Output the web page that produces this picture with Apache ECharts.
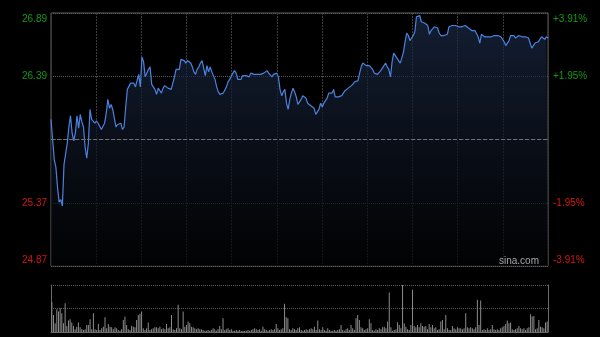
<!DOCTYPE html>
<html><head><meta charset="utf-8">
<script src="https://cdn.jsdelivr.net/npm/echarts@6/dist/echarts.min.js"></script>
<style>html,body{margin:0;padding:0;background:#000;}#c{width:600px;height:337px;}</style>
</head><body><div id="c"></div>
<script>
const priceMin = 24.87, priceMax = 26.89, preClose = 25.88;
const leftLabels = ['24.87', '25.37', '', '26.39', '26.89'];
const rightLabels = ['-3.91%', '-1.95%', '', '+1.95%', '+3.91%'];
const timeSlots = 11;
const prices = [
26.04,25.88,25.72,25.66,25.50,25.38,25.40,25.35,25.68,25.69,
25.85,25.98,26.07,25.93,25.87,25.93,26.07,25.97,26.08,26.02,
25.98,25.82,25.73,25.85,26.12,26.04,26.04,26.01,26.03,26.01,
26.01,25.96,25.97,26.01,26.09,26.20,26.13,26.16,26.12,26.12,
25.98,26.00,26.00,26.01,25.96,25.98,26.14,26.28,26.27,26.33,
26.34,26.33,26.30,26.29,26.40,26.30,26.54,26.50,26.38,26.37,
26.44,26.46,26.32,26.30,26.28,26.24,26.29,26.29,26.25,26.29,
26.31,26.30,26.29,26.28,26.28,26.28,26.38,26.44,26.44,26.44,26.52,
26.53,26.51,26.49,26.51,26.51,26.49,26.46,26.42,26.40,26.44,
26.46,26.49,26.51,26.45,26.39,26.47,26.42,26.46,26.42,26.41,
26.36,26.30,26.26,26.24,26.24,26.25,26.26,26.30,26.34,26.36,
26.37,26.41,26.43,26.41,26.36,26.36,26.36,26.39,26.39,26.39,
26.38,26.38,26.41,26.40,26.40,26.41,26.40,26.40,26.40,26.40,
26.41,26.41,26.43,26.41,26.41,26.38,26.40,26.41,26.41,26.38,
26.28,26.23,26.26,26.28,26.17,26.12,26.20,26.25,26.29,26.26,
26.22,26.16,26.16,26.20,26.23,26.22,26.21,26.17,
26.16,26.15,26.15,26.13,26.08,26.08,26.12,
26.17,26.14,26.17,26.16,
26.21,26.25,26.24,26.25,26.28,26.22,26.22,26.22,26.22,26.23,
26.22,26.27,26.28,26.29,26.30,26.31,26.32,26.34,26.33,26.35,
26.41,26.46,26.49,26.49,26.47,26.46,26.47,26.47,26.44,26.41,
26.40,26.40,26.41,26.43,26.45,26.46,26.49,26.46,26.44,26.38,
26.50,26.57,26.55,26.54,26.51,26.49,26.53,26.58,26.66,26.73,
26.71,26.67,26.67,26.71,26.74,
26.86,26.86,26.87,26.82,26.81,26.81,26.81,26.79,26.72,26.75,26.76,
26.78,26.79,26.77,26.73,26.71,26.70,26.71,26.71,26.72,26.78,
26.79,26.79,26.79,26.79,26.79,26.78,26.79,26.78,26.78,26.79,
26.78,26.77,26.76,26.75,26.75,26.75,26.75,26.70,
26.65,26.72,
26.71,26.70,26.70,26.70,26.70,26.70,26.70,26.71,26.71,26.71,
26.71,26.70,26.70,26.66,26.63,26.63,26.67,26.71,26.70,26.71,
26.69,26.70,26.71,26.70,26.70,26.70,26.70,26.70,26.69,26.65,
26.61,26.62,26.65,26.65,26.66,26.67,26.70,26.71,
26.68,26.70,26.69
];
const volumes = [
89,51,26,68,61,71,56,26,86,18,34,38,28,18,8,16,28,14,8,6,8,21,21,38,8,56,8,6,24,6,
11,16,44,11,24,16,14,8,14,11,6,4,8,36,46,21,8,6,18,16,14,36,51,54,61,11,6,11,28,6,
8,11,14,14,11,16,8,11,8,24,11,14,51,8,6,11,81,11,8,61,16,21,31,26,16,14,11,8,11,8,
8,6,4,4,6,4,6,11,8,4,8,18,8,41,6,8,11,6,8,4,4,6,4,6,3,4,3,4,6,4,
6,8,11,8,6,8,4,16,8,6,4,6,8,6,8,24,11,6,8,11,84,44,41,8,6,11,8,6,11,
14,6,4,6,8,6,8,11,8,16,6,34,8,6,14,6,4,11,6,4,4,6,4,6,8,21,6,4,8,11,
6,21,11,6,41,51,36,14,11,6,8,11,38,26,6,4,8,6,11,8,14,16,11,31,118,14,4,6,8,29,
21,11,141,26,16,8,6,21,126,18,14,21,14,26,18,16,18,8,24,14,21,11,14,6,8,31,36,8,51,11,
6,6,18,11,8,14,11,11,8,11,56,14,11,14,11,8,14,96,21,94,6,8,6,11,6,8,21,8,6,8,
6,11,14,18,24,34,26,28,8,6,8,11,18,11,8,11,6,11,14,53,46,48,8,11,36,16,14,11,28,31
];
const volMax = 140;

const chart = echarts.init(document.getElementById('c'), null, {renderer: 'canvas'});
const step = (priceMax - priceMin) / 4;
const idxOf = v => Math.round((parseFloat(v) - priceMin) / step);
const upColor = '#119a11', downColor = '#d41414';
const labelColor = v => (parseFloat(v) > preClose ? upColor : downColor);
const font = '"Liberation Sans", Arial, sans-serif';
const fmt = labels => v => {
  const i = idxOf(v);
  const t = labels[i] || '';
  if (!t) return '';
  if (i === 4) return '{hi|' + t + '}';
  if (i === 0) return '{lo|' + t + '}';
  return t;
};
const rich = {hi: {padding: [12, 0, 0, 0]}, lo: {padding: [0, 0, 12, 0]}};

chart.setOption({
  animation: false,
  backgroundColor: '#000',
  grid: [
    {left: 51, right: 52, top: 13, height: 253, show: true, borderColor: '#626262', borderWidth: 1, backgroundColor: 'transparent'},
    {left: 51, right: 52, top: 285, height: 47}
  ],
  graphic: [{
    type: 'text', left: 499, top: 256, z: 10,
    style: {text: 'sina.com', fill: '#a8a8a8', font: '10px ' + font}
  }],
  xAxis: [
    {type: 'category', gridIndex: 0, data: prices.map((_, i) => i), boundaryGap: false, show: false},
    {type: 'value', gridIndex: 0, min: 0, max: timeSlots, interval: 1,
      axisLine: {show: false}, axisTick: {show: false}, axisLabel: {show: false},
      splitLine: {show: true, lineStyle: {color: '#3c3c3c', type: [2, 1], width: 1}}},
    {type: 'category', gridIndex: 1, data: volumes.map((_, i) => i), boundaryGap: true,
      axisLine: {show: true, lineStyle: {color: '#6a6a6a'}}, axisTick: {show: false}, axisLabel: {show: false}, splitLine: {show: false}}
  ],
  yAxis: [
    {type: 'value', gridIndex: 0, position: 'left', min: priceMin, max: priceMax, interval: step,
      axisLine: {show: false}, axisTick: {show: false},
      axisLabel: {formatter: fmt(leftLabels), rich: rich, color: labelColor, fontSize: 10, fontFamily: font, margin: 4},
      splitLine: {show: true, lineStyle: {color: '#5a5a5a', type: [1, 1], width: 1}}},
    {type: 'value', gridIndex: 0, position: 'right', min: priceMin, max: priceMax, interval: step,
      axisLine: {show: false}, axisTick: {show: false},
      axisLabel: {formatter: fmt(rightLabels), rich: rich, color: labelColor, fontSize: 10, fontFamily: font, margin: 5},
      splitLine: {show: false}},
    {type: 'value', gridIndex: 1, position: 'left', min: 0, max: volMax, interval: volMax / 2,
      axisLine: {show: true, lineStyle: {color: '#6a6a6a'}}, axisTick: {show: false}, axisLabel: {show: false},
      splitLine: {show: true, lineStyle: {color: '#5a5a5a', type: [1, 1], width: 1}}},
    {type: 'value', gridIndex: 1, position: 'right', min: 0, max: volMax, interval: volMax / 2,
      axisLine: {show: true, lineStyle: {color: '#6a6a6a'}}, axisTick: {show: false}, axisLabel: {show: false},
      splitLine: {show: false}}
  ],
  series: [
    {type: 'line', xAxisIndex: 0, yAxisIndex: 0, data: prices, symbol: 'none', showSymbol: false,
      lineStyle: {color: '#4b82e0', width: 1.2},
      areaStyle: {color: new echarts.graphic.LinearGradient(0, 0, 0, 1, [
        {offset: 0, color: '#1c2b47'}, {offset: 0.5, color: '#0e1523'}, {offset: 1, color: '#020304'}])},
      markLine: {symbol: 'none', silent: true, label: {show: false},
        lineStyle: {color: '#707070', type: [4, 2], width: 1},
        data: [{yAxis: preClose}]}
    },
    {type: 'bar', xAxisIndex: 2, yAxisIndex: 2, data: volumes, barWidth: 1,
      itemStyle: {color: '#8c8c8c'}}
  ]
});
</script>
</body></html>
